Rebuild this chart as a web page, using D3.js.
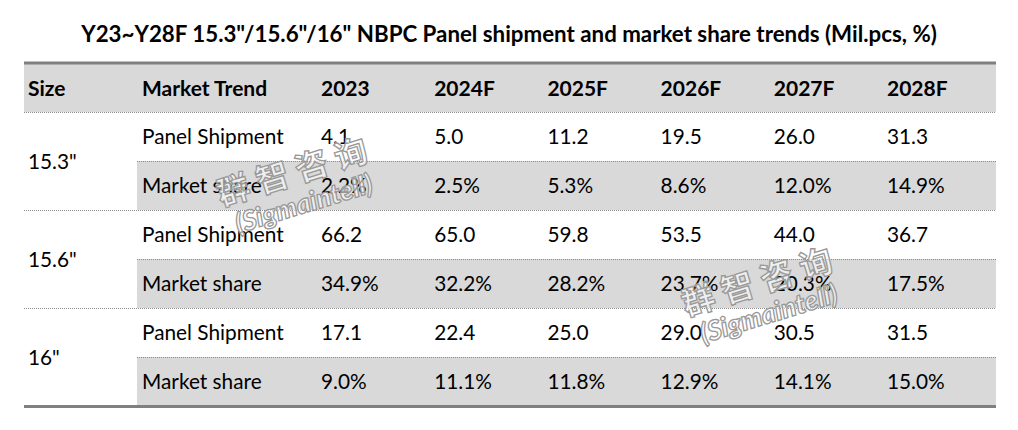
<!DOCTYPE html>
<html><head><meta charset="utf-8">
<script src="https://cdn.jsdelivr.net/npm/d3@7"></script>
<style>
html,body{margin:0;padding:0;background:#fff;}
svg{display:block;}
</style>
</head><body>
<div id="chart"></div>
<script>
const title = 'Y23~Y28F 15.3"/15.6"/16" NBPC Panel shipment and market share trends (Mil.pcs, %)';
const headers = ["Size", "Market Trend"];
const years = ["2023", "2024F", "2025F", "2026F", "2027F", "2028F"];
const sizes = ['15.3"', '15.6"', '16"'];
const metrics = ["Panel Shipment", "Market share"];
const shipment153 = [4.1, 5.0, 11.2, 19.5, 26.0, 31.3];
const share153 = [2.2, 2.5, 5.3, 8.6, 12.0, 14.9];
const shipment156 = [66.2, 65.0, 59.8, 53.5, 44.0, 36.7];
const share156 = [34.9, 32.2, 28.2, 23.7, 20.3, 17.5];
const shipment16 = [17.1, 22.4, 25.0, 29.0, 30.5, 31.5];
const share16 = [9.0, 11.1, 11.8, 12.9, 14.1, 15.0];

const W = 1018, H = 430;
const font = "Lato, 'Open Sans', sans-serif";
const svg = d3.select("#chart").append("svg").attr("width", W).attr("height", H);

const tableLeft = 24, tableRight = 996, subLeft = 137;
const headTop = 64, bodyTop = 112, bodyBottom = 406;

const rows = [];
const seriesBySize = [[shipment153, share153], [shipment156, share156], [shipment16, share16]];
sizes.forEach((s, si) => metrics.forEach((m, mi) => rows.push({size: s, metric: m, mi, values: seriesBySize[si][mi]})));

const y = d3.scaleBand().domain(d3.range(rows.length)).range([bodyTop, bodyBottom]);
const xYear = d3.scaleLinear().domain([0, years.length - 1]).range([321, 887]);
const xSize = 28, xMetric = 142;

// title
svg.append("text").attr("x", 509).attr("y", 42).attr("text-anchor", "middle")
  .attr("font-family", font).attr("font-weight", "bold").attr("font-size", 22.3)
  .attr("fill", "#000").text(title);

// header band
svg.append("rect").attr("x", tableLeft).attr("y", headTop).attr("width", tableRight - tableLeft)
  .attr("height", bodyTop - headTop).attr("fill", "#d9d9d9");
svg.append("line").attr("x1", tableLeft).attr("x2", tableRight).attr("y1", headTop - 1).attr("y2", headTop - 1)
  .attr("stroke", "#808080").attr("stroke-width", 3);

// grey bands for market share rows
svg.selectAll("rect.band").data(rows.filter(r => r.mi === 1)).join("rect")
  .attr("class", "band").attr("x", subLeft).attr("width", tableRight - subLeft)
  .attr("y", d => y(rows.indexOf(d))).attr("height", y.bandwidth()).attr("fill", "#d9d9d9");

// dotted lines
const lineYs = [];
rows.forEach((r, i) => { if (i > 0) lineYs.push({y: y(i), full: r.mi === 0}); });
lineYs.unshift({y: bodyTop, full: true});
svg.selectAll("line.dot").data(lineYs).join("line").attr("class", "dot")
  .attr("x1", d => d.full ? tableLeft : subLeft).attr("x2", tableRight)
  .attr("y1", d => d.y + 0.5).attr("y2", d => d.y + 0.5)
  .attr("stroke", "#8c8c8c").attr("stroke-width", 1).attr("stroke-dasharray", "1,1");

svg.append("line").attr("x1", tableLeft).attr("x2", tableRight).attr("y1", bodyBottom + 0.5).attr("y2", bodyBottom + 0.5)
  .attr("stroke", "#808080").attr("stroke-width", 3);

// header text
const hy = 96;
const hdr = svg.append("g").attr("font-family", font).attr("font-weight", "bold").attr("font-size", 21).attr("fill", "#000");
hdr.append("text").attr("x", xSize).attr("y", hy).text(headers[0]);
hdr.append("text").attr("x", xMetric).attr("y", hy).text(headers[1]);
hdr.selectAll("text.yr").data(years).join("text").attr("class", "yr")
  .attr("x", (d, i) => xYear(i)).attr("y", hy).text(d => d);

// body
const body = svg.append("g").attr("font-family", font).attr("font-size", 20.8).attr("fill", "#000");
const off = 7.5;
body.selectAll("text.size").data(sizes).join("text").attr("class", "size")
  .attr("x", xSize).attr("y", (d, i) => y(i * 2) + y.bandwidth() + off).text(d => d);
body.selectAll("text.metric").data(rows).join("text").attr("class", "metric")
  .attr("x", xMetric).attr("y", (d, i) => y(i) + y.bandwidth() / 2 + off).text(d => d.metric);
rows.forEach((r, ri) => {
  body.selectAll("text.v" + ri).data(r.values).join("text").attr("class", "v" + ri)
    .attr("x", (d, i) => xYear(i)).attr("y", y(ri) + y.bandwidth() / 2 + off)
    .text(d => r.mi === 1 ? d.toFixed(1) + "%" : d.toFixed(1));
});

// watermarks
const wm = [{x: 292, y: 172}, {x: 757, y: 282}];
wm.forEach(p => {
  const g = svg.append("g").attr("transform", `translate(${p.x},${p.y}) rotate(-17)`)
    .attr("fill", "rgba(255,255,255,0.6)").attr("stroke", "#999").attr("stroke-width", 1.3)
    .attr("font-weight", "bold").attr("text-anchor", "middle");
  g.append("text").attr("x", 4).attr("y", 12).attr("font-family", "'Noto Sans CJK SC'")
    .attr("font-size", 33).attr("letter-spacing", 8).text("群智咨询");
  g.append("text").attr("x", 2).attr("y", 43).attr("font-family", font)
    .attr("font-size", 27).attr("font-weight", 900).attr("font-style", "italic").text("(Sigmaintell)");
});
</script>
</body></html>
